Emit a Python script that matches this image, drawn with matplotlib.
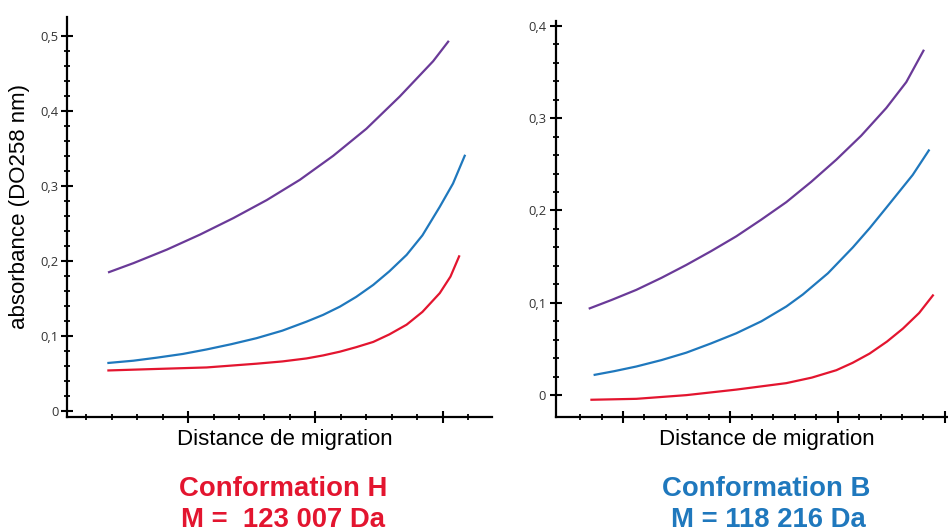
import numpy as np
import matplotlib
matplotlib.use('Agg')
import matplotlib.pyplot as plt
from matplotlib.ticker import FixedLocator, NullFormatter

# Conformation H (left panel), distance in arbitrary units
h_x = [1.9, 2.86, 4.17, 5.47, 6.78, 8.09, 9.39, 10.7, 12.0, 13.31, 14.62, 15.21]
h_purple = [0.185, 0.197, 0.215, 0.235, 0.257, 0.281, 0.308, 0.340, 0.376, 0.419, 0.466, 0.492]
h_xb = [1.875, 2.86, 3.77, 4.8, 5.73, 6.7, 7.69, 8.7, 9.65, 10.3, 10.96, 11.6,
        12.27, 12.9, 13.58, 14.2, 14.88, 15.4, 15.86]
h_blue = [0.064, 0.067, 0.071, 0.076, 0.082, 0.089, 0.097, 0.107, 0.119, 0.128, 0.139, 0.152,
          0.168, 0.186, 0.208, 0.234, 0.272, 0.303, 0.340]
h_xr = [1.875, 3.77, 5.73, 7.69, 8.7, 9.65, 10.3, 10.96, 11.6, 12.27, 12.9, 13.58,
        14.2, 14.88, 15.3, 15.64]
h_red = [0.054, 0.056, 0.058, 0.063, 0.066, 0.070, 0.074, 0.079, 0.085, 0.092, 0.102, 0.115,
         0.132, 0.157, 0.179, 0.206]

# Conformation B (right panel)
b_x = [3.45, 4.46, 5.62, 6.79, 7.95, 9.11, 10.28, 11.44, 12.61, 13.77, 14.94, 16.1,
       17.27, 18.2, 19.0]
b_purple = [0.094, 0.103, 0.114, 0.127, 0.141, 0.156, 0.172, 0.190, 0.209, 0.231, 0.255, 0.281,
            0.311, 0.339, 0.373]
b_xb = [3.68, 4.6, 5.62, 6.8, 7.95, 9.1, 10.28, 11.45, 12.61, 13.38, 14.55, 15.71,
        16.5, 17.27, 18.5, 19.25]
b_blue = [0.022, 0.026, 0.031, 0.038, 0.046, 0.056, 0.067, 0.080, 0.096, 0.109, 0.132, 0.160,
          0.181, 0.203, 0.2385, 0.265]
b_xr = [3.53, 5.62, 7.95, 10.28, 12.61, 13.8, 14.94, 15.7, 16.49, 17.3, 18.04, 18.8, 19.44]
b_red = [-0.005, -0.004, 0.0, 0.006, 0.013, 0.019, 0.027, 0.035, 0.045, 0.058, 0.072, 0.089, 0.108]

h_yticks = [0, 0.1, 0.2, 0.3, 0.4, 0.5]
h_ylabels = ['0', '0,1', '0,2', '0,3', '0,4', '0,5']
b_yticks = [0, 0.1, 0.2, 0.3, 0.4]
b_ylabels = ['0', '0,1', '0,2', '0,3', '0,4']

PURPLE = '#6a3a98'
BLUE = '#1f78bd'
RED = '#e3152f'

sans = ['Liberation Sans', 'DejaVu Sans']

fig = plt.figure(figsize=(9.48, 5.32), dpi=100)
ax1 = fig.add_axes([0.0707, 0.2162, 0.448, 0.752])
ax2 = fig.add_axes([0.587, 0.2156, 0.412, 0.7455])


def style(ax, yticks, ylabels, minor_x, minor_y):
    for s in ['top', 'right']:
        ax.spines[s].set_visible(False)
    for s in ['left', 'bottom']:
        ax.spines[s].set_linewidth(1.6)
    ax.set_yticks(yticks)
    ax.set_yticklabels(ylabels, fontsize=9.3, color='#333333', family='Open Sans')
    ax.xaxis.set_major_formatter(NullFormatter())
    ax.xaxis.set_minor_locator(FixedLocator(minor_x))
    ax.yaxis.set_minor_locator(FixedLocator(minor_y))
    ax.tick_params(which='major', direction='inout', length=9, width=1.5, pad=1.5)
    ax.tick_params(which='minor', direction='inout', length=5, width=1.3)
    ax.set_facecolor('none')


ax1.plot(h_x, h_purple, color=PURPLE, lw=1.6)
ax1.plot(h_xb, h_blue, color=BLUE, lw=1.6)
ax1.plot(h_xr, h_red, color=RED, lw=1.6)
ax1.set_xlim(0.25, 16.92)
ax1.set_ylim(-0.008, 0.525)
ax1.set_xticks([5, 10, 15])
style(ax1, h_yticks, h_ylabels,
      [v for v in range(1, 17) if v % 5],
      [v / 100 for v in range(2, 50, 2) if v % 10])

ax2.plot(b_x, b_purple, color=PURPLE, lw=1.6)
ax2.plot(b_xb, b_blue, color=BLUE, lw=1.6)
ax2.plot(b_xr, b_red, color=RED, lw=1.6)
ax2.set_xlim(1.9, 20.1)
ax2.set_ylim(-0.024, 0.4055)
ax2.set_xticks([5, 10, 15, 20])
style(ax2, b_yticks, b_ylabels,
      [v for v in range(3, 20) if v % 5],
      [v / 100 for v in range(2, 40, 2) if v % 10])
ax2.yaxis.set_tick_params(pad=3)

fig.text(20 / 948, 1 - 206 / 532, 'absorbance (DO258 nm)', rotation=90,
         ha='center', va='center', fontsize=16, family=sans)

fig.text(285 / 948, 1 - 440 / 532, 'Distance de migration', ha='center', va='center',
         fontsize=16, family=sans)
fig.text(767 / 948, 1 - 440 / 532, 'Distance de migration', ha='center', va='center',
         fontsize=16, family=sans)

fig.text(283 / 948, 1 - 489 / 532, 'Conformation H', ha='center', va='center',
         fontsize=19.8, fontweight='bold', color=RED, family=sans)
fig.text(283 / 948, 1 - 520 / 532, 'M =  123 007 Da', ha='center', va='center',
         fontsize=19.8, fontweight='bold', color=RED, family=sans)
fig.text(766 / 948, 1 - 489 / 532, 'Conformation B', ha='center', va='center',
         fontsize=19.8, fontweight='bold', color=BLUE, family=sans)
fig.text(768 / 948, 1 - 520 / 532, 'M = 118 216 Da', ha='center', va='center',
         fontsize=19.8, fontweight='bold', color=BLUE, family=sans)

fig.savefig('out.png', dpi=100)
